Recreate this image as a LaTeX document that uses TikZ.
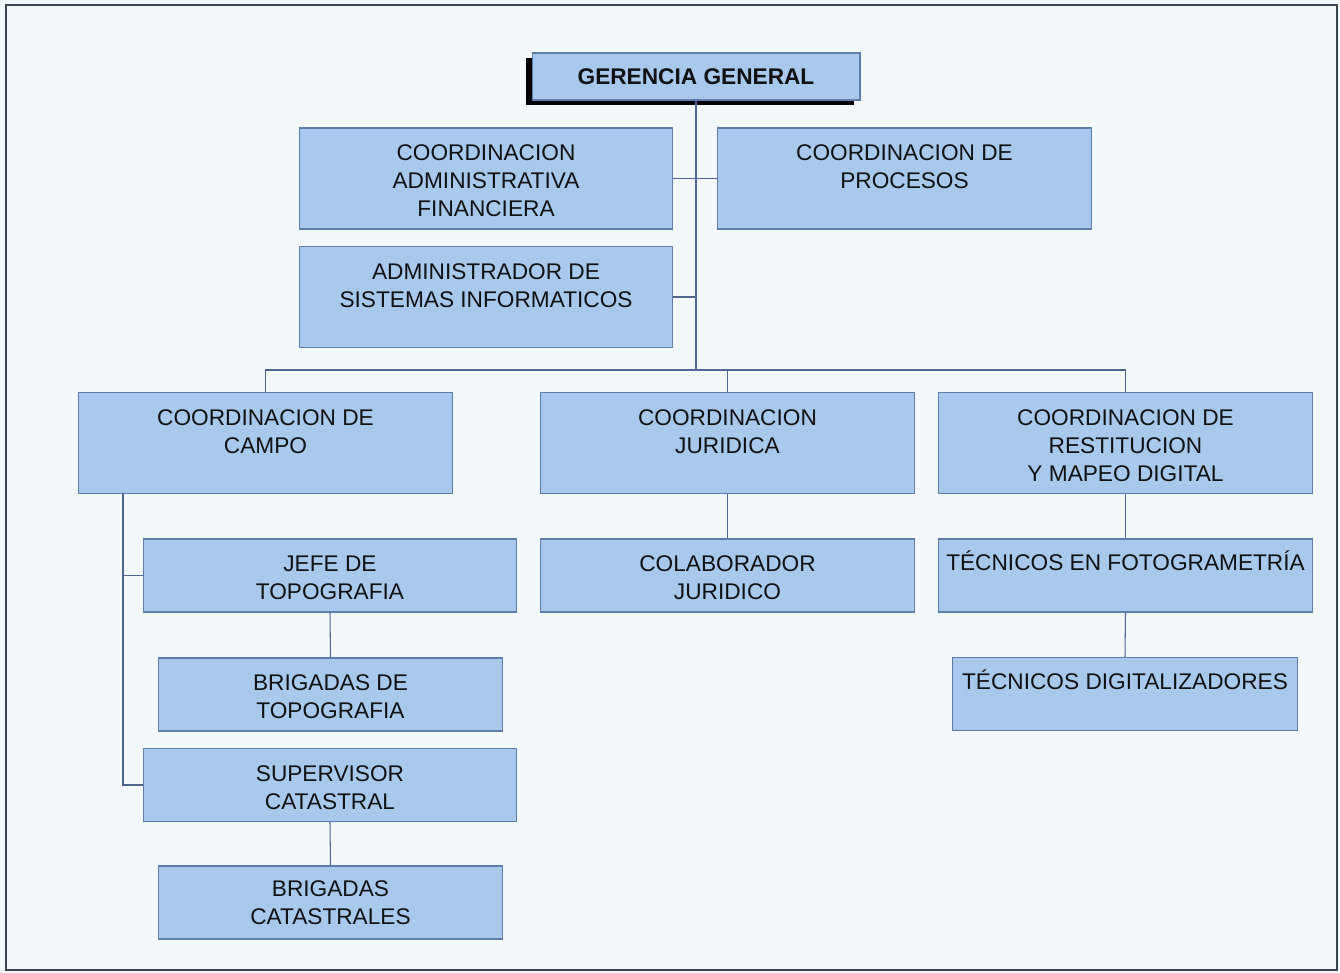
\documentclass[tikz,border=0pt]{standalone}
\usepackage{fontspec}
\setmainfont{Liberation Sans}
\usetikzlibrary{positioning,calc,shadows}
\definecolor{cBoxF}{HTML}{A8C8EC}
\definecolor{cBoxD}{HTML}{5F7DAA}
\definecolor{cLine}{HTML}{4E6690}
\definecolor{cInk}{HTML}{111111}
\definecolor{cBack}{HTML}{F3F8FB}
\definecolor{cFrame}{HTML}{3B4452}
\tikzset{
  unit/.style    = {draw=cBoxD, fill=cBoxF, line width=0.6pt, inner sep=0pt,
                    minimum width=7.48cm, minimum height=2.02cm},
  lowbox/.style  = {unit, minimum height=1.46cm},
  slimbox/.style = {lowbox, minimum width=6.9cm},
  head/.style    = {unit, minimum width=6.56cm, minimum height=0.94cm, text=cInk,
                    font=\fontsize{12.9}{16}\selectfont\bfseries,
                    drop shadow={shadow xshift=-0.12cm, shadow yshift=-0.1cm,
                                 fill=black, opacity=1}},
  lbl/.style     = {anchor=north, inner sep=0pt, align=center, text=cInk,
                    font=\fontsize{12.9}{16}\selectfont},
  conn/.style    = {cLine, line width=0.6pt},
}

\begin{document}
\begin{tikzpicture}[x=0.02cm, y=-0.02cm]
  \fill[cBack] (0,0) rectangle (1340,973);
  \draw[cFrame, line width=1.2pt] (6,5) rectangle (1337,970);
  \useasboundingbox (0,0) rectangle (1340,973);
  % boxes
  \node[head] (ger) at (696,76.5) {GERENCIA GENERAL};
  \node[unit] (adm) at (486,178.5) {};
  \node[unit] (pro) at (904.5,178.5) {};
  \node[unit] (sis) at (486,297) {};
  \node[unit] (cam) at (265.5,443) {};
  \node[unit] (jur) at (727.5,443) {};
  \node[unit] (res) at (1125.5,443) {};
  \node[lowbox] (jef) at (330,575.5) {};
  \node[slimbox] (bto) at (330.5,694.5) {};
  \node[lowbox] (sup) at (330,785) {};
  \node[slimbox] (bca) at (330.5,902.5) {};
  \node[lowbox] (col) at (727.5,575.5) {};
  \node[lowbox] (tfo) at (1125.5,575.5) {};
  \node[slimbox] (tdi) at (1125,694) {};
  % labels
  \node[lbl] (admT) at ([yshift=-0.34cm]adm.north) {COORDINACION\\ADMINISTRATIVA\\FINANCIERA};
  \node[lbl] (proT) at ([yshift=-0.34cm]pro.north) {COORDINACION DE\\PROCESOS};
  \node[lbl] (sisT) at ([yshift=-0.34cm]sis.north) {ADMINISTRADOR DE\\SISTEMAS INFORMATICOS};
  \node[lbl] (camT) at ([yshift=-0.34cm]cam.north) {COORDINACION DE\\CAMPO};
  \node[lbl] (jurT) at ([yshift=-0.34cm]jur.north) {COORDINACION\\JURIDICA};
  \node[lbl] (resT) at ([yshift=-0.34cm]res.north) {COORDINACION DE\\RESTITUCION\\Y MAPEO DIGITAL};
  \node[lbl] (jefT) at ([yshift=-0.34cm]jef.north) {JEFE DE\\TOPOGRAFIA};
  \node[lbl] (btoT) at ([yshift=-0.34cm]bto.north) {BRIGADAS DE\\TOPOGRAFIA};
  \node[lbl] (supT) at ([yshift=-0.34cm]sup.north) {SUPERVISOR\\CATASTRAL};
  \node[lbl] (bcaT) at ([yshift=-0.30cm]bca.north) {BRIGADAS\\CATASTRALES};
  \node[lbl] (colT) at ([yshift=-0.34cm]col.north) {COLABORADOR\\JURIDICO};
  \node[lbl] (tfoT) at ([yshift=-0.24cm]tfo.north) {TÉCNICOS EN FOTOGRAMETRÍA};
  \node[lbl] (tdiT) at ([yshift=-0.26cm]tdi.north) {TÉCNICOS DIGITALIZADORES};
  % connectors
  \coordinate (bus) at (696,370);
  \coordinate (spine) at (123,493);
  \draw[conn] (ger.south) -- (bus);
  \draw[conn] (adm.east) -- (pro.west);
  \draw[conn] (sis.east) -- (sis.east -| bus);
  \draw[conn] (cam.north) |- (bus) -| (res.north);
  \draw[conn] (jur.north) -- (jur.north |- bus);
  \draw[conn] (spine) |- (sup.west);
  \draw[conn] (jef.west) -- (jef.west -| spine);
  \draw[conn] (jef.south) -- (bto.north);
  \draw[conn] (sup.south) -- (bca.north);
  \draw[conn] (jur.south) -- (col.north);
  \draw[conn] (res.south) -- (tfo.north);
  \draw[conn] (tfo.south) -- (tdi.north);
\end{tikzpicture}
\end{document}
